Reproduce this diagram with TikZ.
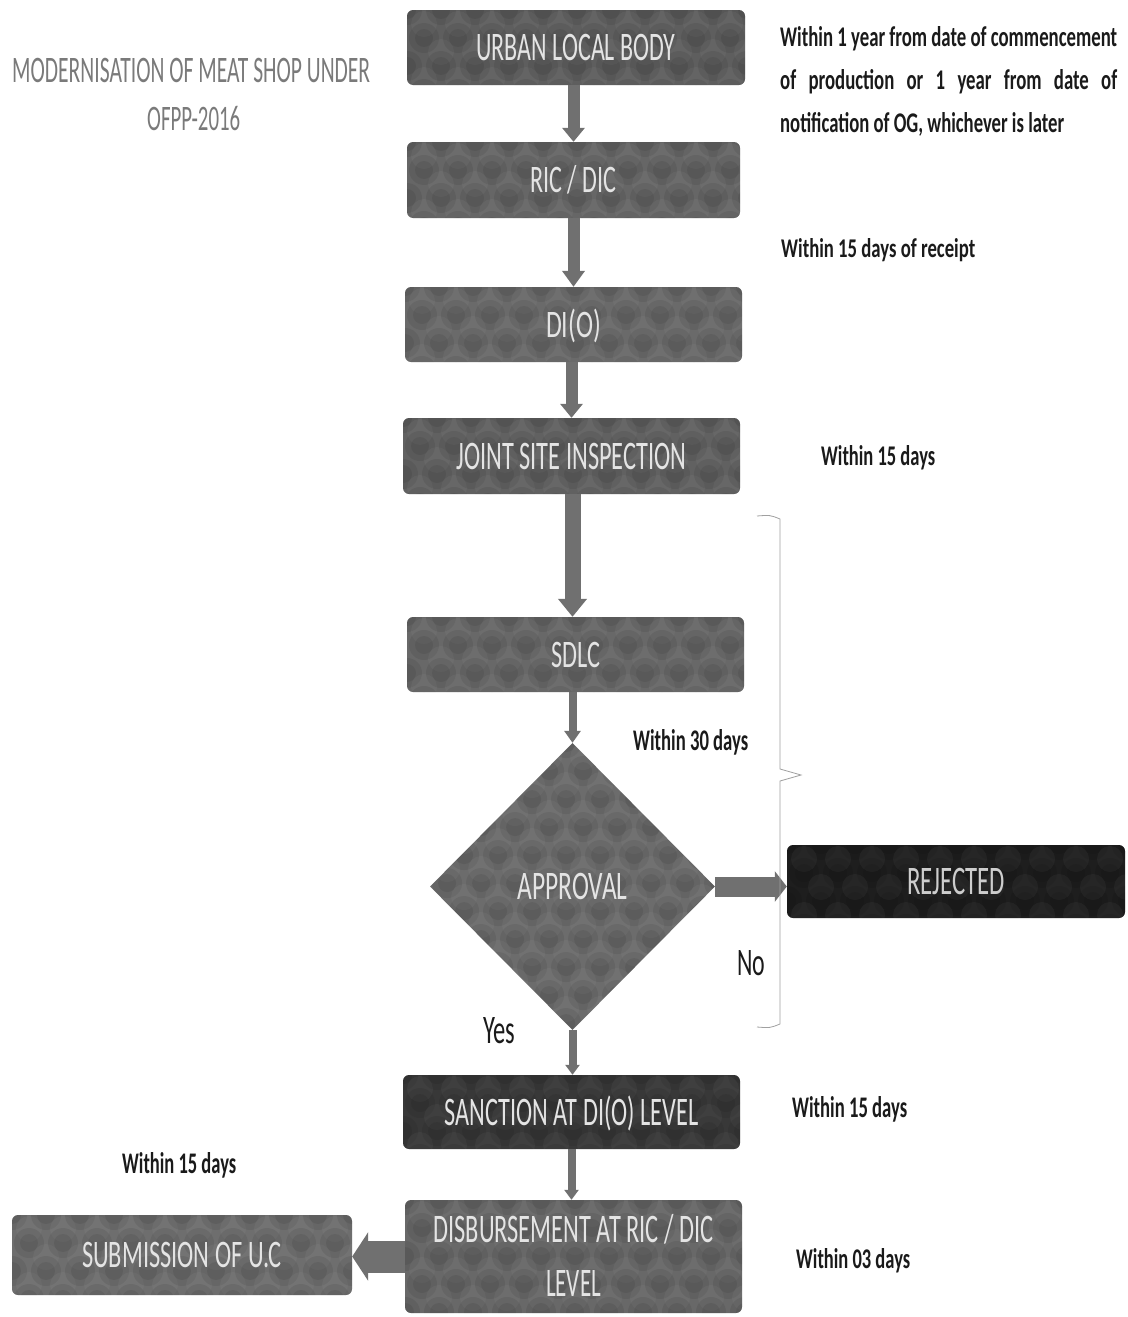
\documentclass[tikz,border=0pt]{standalone}
\usepackage{fontspec}
\setmainfont{Carlito}
\usepackage{graphicx}
\usetikzlibrary{shapes.geometric,arrows.meta}
\definecolor{arrgray}{HTML}{707070}
\definecolor{anncol}{HTML}{1A1A1A}
\definecolor{titcol}{HTML}{7A7A7A}
\definecolor{boxtxt}{HTML}{E4E4E4}
\definecolor{cA}{HTML}{5E5E5E}
\definecolor{cB}{HTML}{666666}
\definecolor{cC}{HTML}{6A6A6A}
\definecolor{cD}{HTML}{616161}
\definecolor{cE}{HTML}{686868}
\definecolor{cF}{HTML}{6C6C6C}
\definecolor{cRej}{HTML}{1E1E1E}
\definecolor{cSan}{HTML}{383838}
\definecolor{cSub}{HTML}{6E6E6E}
\definecolor{brkcol}{HTML}{A0A0A0}
\newlength\lwA
\newcommand\fitcap[3]{\resizebox{#1}{#2}{\smash{#3}\vphantom{I}}}
\newcommand\fitasc[3]{\resizebox{#1}{#2}{\smash{#3}\vphantom{h}}}
\tikzset{
  mottle/.style 2 args={path picture={
    \foreach \i in {0,...,#1}{\foreach \j in {0,...,#2}{
      \pgfmathsetmacro\mx{\i*34+mod(\j,2)*17}
      \pgfmathsetmacro\my{\j*28}
      \fill[black,opacity=.07] ([shift={(\mx,\my)}]path picture bounding box.north west) circle (15);
      \fill[black,opacity=.07] ([shift={(\mx,\my)}]path picture bounding box.north west) circle (9);
      \fill[white,opacity=.04] ([shift={(\mx+17,\my+14)}]path picture bounding box.north west) circle (13);
    }}}},
  fbox/.style={rectangle, rounded corners=6pt, inner sep=0pt, text=boxtxt, mottle={10}{4}},
  ann/.style={anchor=base west, inner sep=0pt, font=\bfseries, text=anncol},
  tit/.style={anchor=base west, inner sep=0pt, text=titcol},
  brk/.style={draw=brkcol, line width=0.8pt},
}
\begin{document}
\begin{tikzpicture}[x=1pt,y=-1pt]
\useasboundingbox (0,0) rectangle (1127,1317);
\fill[white] (0,0) rectangle (1127,1317);

% title
\node[tit] (t1) at (12,82) {\fitcap{358pt}{24pt}{MODERNISATION OF MEAT SHOP UNDER}};
\node[tit] (t2) at (147,130) {\fitcap{93pt}{23pt}{OFPP-2016}};

% boxes
\node[fbox, fill=cA, minimum width=338pt, minimum height=75pt] (ulb) at (576,47.5) {\fitcap{199pt}{26pt}{URBAN LOCAL BODY}};
\node[fbox, fill=cB, minimum width=333pt, minimum height=76pt] (ric) at (573.5,180) {\fitcap{86pt}{25pt}{RIC / DIC}};
\node[fbox, fill=cC, minimum width=337pt, minimum height=75pt] (dio) at (573.5,324.5) {\fitcap{55pt}{25pt}{DI(O)}};
\node[fbox, fill=cD, minimum width=337pt, minimum height=76pt] (jsi) at (571.5,456) {\fitcap{230pt}{26pt}{JOINT SITE INSPECTION}};
\node[fbox, fill=cE, minimum width=337pt, minimum height=75pt] (sdlc) at (575.5,654.5) {\fitcap{49pt}{25pt}{SDLC}};
\node[diamond, fill=cF, mottle={8}{10}, inner sep=0pt, minimum width=285pt, minimum height=287pt, text=boxtxt] (appr) at (572.5,886.5) {\fitcap{110pt}{26pt}{APPROVAL}};
\node[fbox, fill=cRej, minimum width=338pt, minimum height=73pt, text=boxtxt!90!black] (rej) at (956,881.5) {\fitcap{98pt}{26pt}{REJECTED}};
\node[fbox, fill=cSan, minimum width=337pt, minimum height=74pt] (sanc) at (571.5,1112) {\fitcap{254pt}{26pt}{SANCTION AT DI(O) LEVEL}};
\node[fbox, fill=cE, minimum width=337pt, minimum height=113pt, align=center, font=\fontsize{10}{54}\selectfont] (disb) at (573.5,1256.5) {\fitcap{280pt}{26pt}{DISBURSEMENT AT RIC / DIC}\\\fitcap{55pt}{26pt}{LEVEL}};
\node[fbox, fill=cSub, minimum width=340pt, minimum height=80pt] (sub) at (182,1255) {\fitcap{200pt}{25pt}{SUBMISSION OF U.C}};

% arrows
\draw[arrgray, line width=12pt, -{Triangle[width=22pt,length=14pt]}] (ulb.south -| ric) -- (ric.north);
\draw[arrgray, line width=12pt, -{Triangle[width=22pt,length=16pt]}] (ric.south) -- (ric.south |- dio.north);
\draw[arrgray, line width=12pt, -{Triangle[width=22pt,length=14pt]}] (dio.south -| jsi) -- (jsi.north);
\draw[arrgray, line width=16pt, -{Triangle[width=28pt,length=18pt]}] (jsi.south -| appr) -- (appr |- sdlc.north);
\draw[arrgray, line width=8pt, -{Triangle[width=16pt,length=12pt]}] (sdlc.south -| appr) -- (appr.north);
\draw[arrgray, line width=8pt, -{Triangle[width=14pt,length=10pt]}] (appr.south) -- (appr.south |- sanc.north);
\draw[arrgray, line width=8pt, -{Triangle[width=14pt,length=10pt]}] (sanc.south) -- (sanc.south |- disb.north);
\draw[arrgray, line width=20pt, -{Triangle[width=30pt,length=12pt]}] (appr.east) -- (appr.east -| rej.west);
\draw[arrgray, line width=32pt, -{Triangle[width=48pt,length=16pt]}] (disb.west) -- (disb.west -| sub.east);

% bracket
\draw[brk] (757,516) .. controls (770,515) .. (780,519) -- (780,769) -- (801,775) -- (780,781) -- (780,1024) .. controls (770,1028) .. (757,1027);

% annotations
\node[ann] (p1) at (780,46) {\fitasc{337pt}{20pt}{Within 1 year from date of commencement}};
\node[ann] (p2) at (780,89) {\settowidth{\lwA}{Within 1 year from date of commencement}\fitasc{337pt}{20pt}{\makebox[\lwA][s]{of production or 1 year from date of}}};
\node[ann] (p3) at (780,132) {\fitasc{284pt}{20pt}{notification of OG, whichever is later}};
\node[ann] (a1) at (781,257) {\fitasc{194pt}{19pt}{Within 15 days of receipt}};
\node[ann] (a2) at (821,465) {\fitasc{114pt}{20pt}{Within 15 days}};
\node[ann] (a3) at (633,750) {\fitasc{115pt}{21pt}{Within 30 days}};
\node[ann, font=\normalfont] (no) at (737,975) {\fitcap{28pt}{25pt}{No}};
\node[ann, font=\normalfont] (yes) at (483,1043) {\fitcap{32pt}{26pt}{Yes}};
\node[ann] (a4) at (792,1117) {\fitasc{115pt}{21pt}{Within 15 days}};
\node[ann] (a5) at (122,1173) {\fitasc{114pt}{21pt}{Within 15 days}};
\node[ann] (a6) at (796,1268) {\fitasc{114pt}{20pt}{Within 03 days}};
\end{tikzpicture}
\end{document}
